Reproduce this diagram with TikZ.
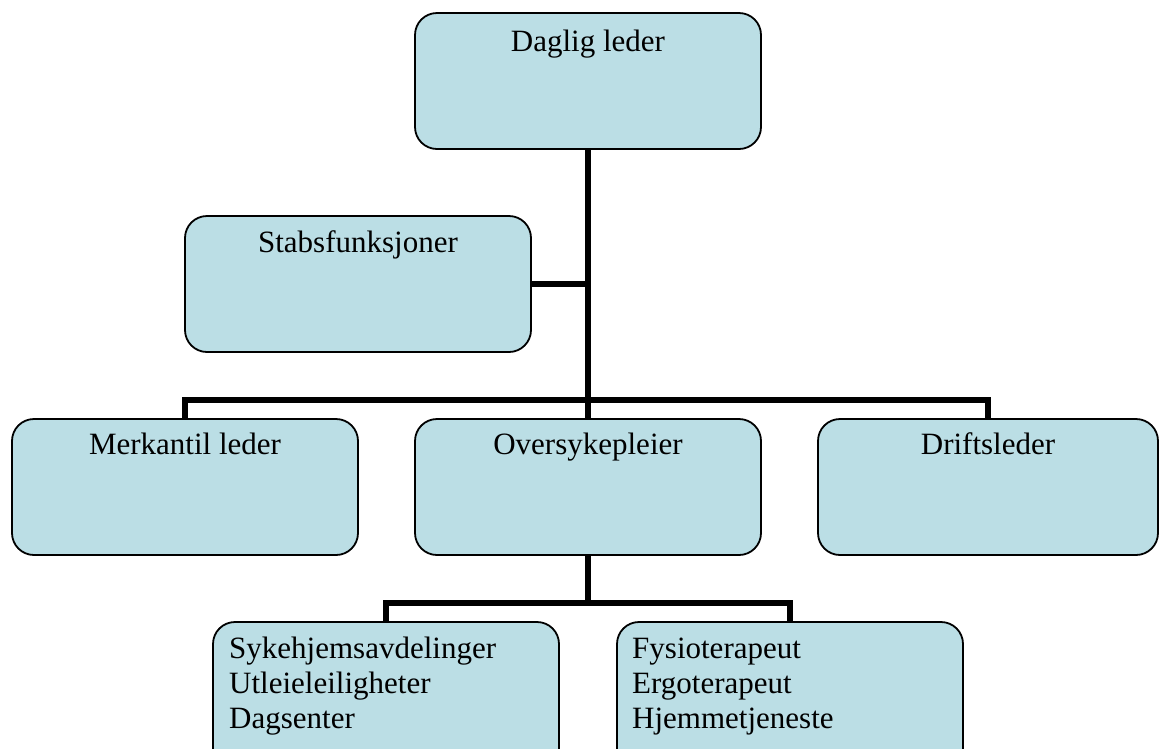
\documentclass[tikz,border=0pt]{standalone}
\usepackage{fontspec}
\setmainfont{Liberation Serif}
\usetikzlibrary{calc}
\begin{document}
\begin{tikzpicture}[x=1pt,y=-1pt,
  orgbox/.style={draw=black, line width=1.8pt, fill={rgb,255:red,187;green,222;blue,229},
    rounded corners=22pt, rectangle, anchor=north west, inner sep=0pt, outer sep=0pt,
    minimum width=346pt, minimum height=136pt},
  ttl/.style={anchor=base, font=\fontsize{31}{35}\selectfont, inner sep=0pt},
  lst/.style={anchor=base west, font=\fontsize{31}{35}\selectfont, inner sep=0pt, align=left},
  conn/.style={line width=6pt}]
\useasboundingbox (0,0) rectangle (1159,748);
\clip (0,0) rectangle (1159,748);
% boxes
\node[orgbox] (dl) at (415,13) {};
\node[orgbox] (sf) at (185,216) {};
\node[orgbox] (ml) at (12,419) {};
\node[orgbox] (os) at (415,419) {};
\node[orgbox, minimum width=340pt] (dr) at (818,419) {};
\node[orgbox, minimum height=160pt] (sh) at (213,622) {};
\node[orgbox, minimum height=160pt] (fy) at (617,622) {};
% titles
\node[ttl] (tdl) at ($(dl.north)+(0,38)$) {Daglig leder};
\node[ttl] (tsf) at ($(sf.north)+(0,36)$) {Stabsfunksjoner};
\node[ttl] (tml) at ($(ml.north)+(0,35)$) {Merkantil leder};
\node[ttl] (tos) at ($(os.north)+(0,35)$) {Oversykepleier};
\node[ttl] (tdr) at ($(dr.north)+(0,35)$) {Driftsleder};
\node[lst] (tsh) at ($(sh.north west)+(16,106)$) {Sykehjemsavdelinger\\Utleieleiligheter\\Dagsenter};
\node[lst] (tfy) at ($(fy.north west)+(15,106)$) {Fysioterapeut\\Ergoterapeut\\Hjemmetjeneste};
% connectors
\coordinate (j1) at (588,400);
\coordinate (j2) at (588,284);
\coordinate (j3) at (588,603);
\draw[conn] (dl.south) -- (os.north);
\draw[conn] (sf.east |- j2) -- (dl.south |- j2);
\draw[conn] (ml.north) |- (j1) -| (dr.north);
\draw[conn] (os.south) -- (os.south |- j3);
\draw[conn] (sh.north) |- (j3) -| (fy.north);
\end{tikzpicture}
\end{document}
